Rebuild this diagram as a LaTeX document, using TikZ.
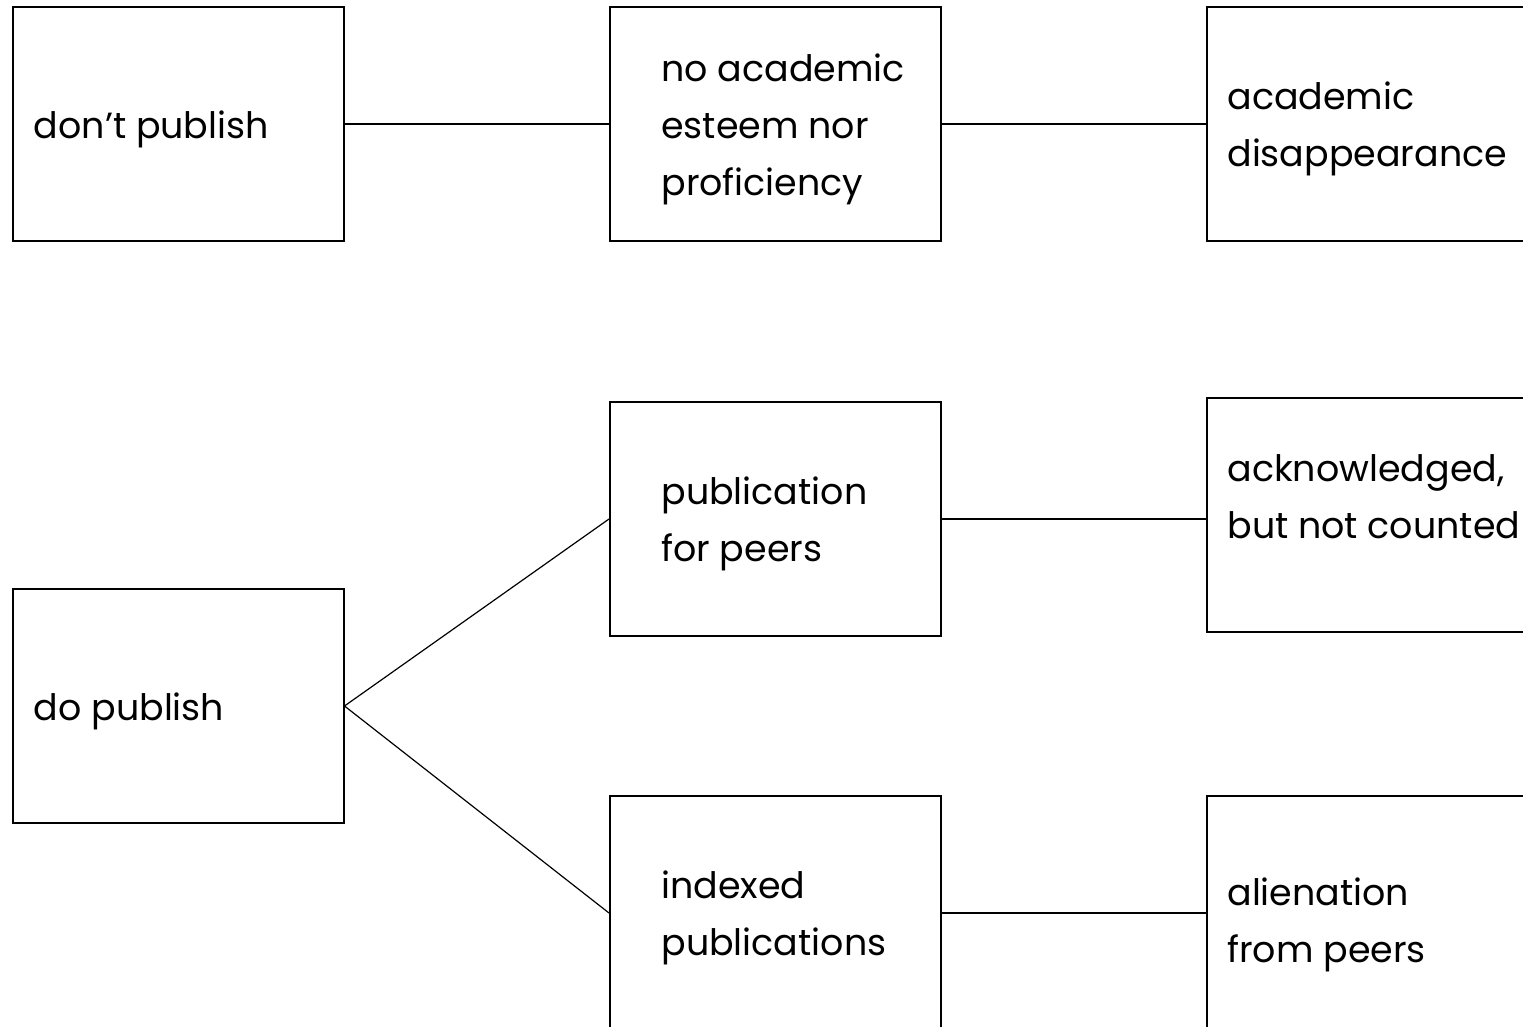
\documentclass[tikz,border=0pt]{standalone}
\usepackage{fontspec}
\setmainfont{Poppins}
\usetikzlibrary{positioning}

\begin{document}
\begin{tikzpicture}[
    x=0.5pt, y=-0.5pt,
    box/.style={rectangle, draw, line width=1pt, minimum width=165.5pt, minimum height=117pt, inner sep=0pt},
    txt/.style={align=left, inner sep=0pt, yshift=-2.5pt, font=\fontsize{18.2}{28.5}\selectfont},
    link/.style={line width=0.6pt}
]
    \useasboundingbox (0,0) rectangle (1523,1027);
    \clip (0,0) rectangle (1523,1027);
    % boxes
    \node[box] (dont) at (178,124) {};
    \node[box] (noacad) at (775.5,124) {};
    \node[box] (gone) at (1372.5,124) {};
    \node[box] (dopub) at (178,706) {};
    \node[box] (peers) at (775.5,519) {};
    \node[box] (ack) at (1372.5,515) {};
    \node[box] (indexed) at (775.5,913) {};
    \node[box] (alien) at (1372.5,913) {};
    % texts
    \node[txt, right=11pt of dont.west] (tdont) {don’t publish};
    \node[txt, right=26pt of noacad.west] (tnoacad) {no academic\\esteem nor\\proficiency};
    \node[txt, right=10.5pt of gone.west] (tgone) {academic\\disappearance};
    \node[txt, right=11pt of dopub.west] (tdopub) {do publish};
    \node[txt, right=26pt of peers.west] (tpeers) {publication\\for peers};
    \node[txt, right=10.5pt of ack.west, yshift=11.5pt] (tack) {acknowledged,\\but not counted};
    \node[txt, right=26pt of indexed.west] (tindexed) {indexed\\publications};
    \node[txt, right=10.5pt of alien.west, yshift=-3.5pt] (talien) {alienation\\from peers};
    % connectors
    \draw[link] (dont) -- (noacad);
    \draw[link] (noacad) -- (gone);
    \draw[link] (peers.east) -- (ack.west |- peers.east);
    \draw[link] (dopub.east) -- (peers.west);
    \draw[link] (dopub.east) -- (indexed.west);
    \draw[link] (indexed) -- (alien);
\end{tikzpicture}
\end{document}
